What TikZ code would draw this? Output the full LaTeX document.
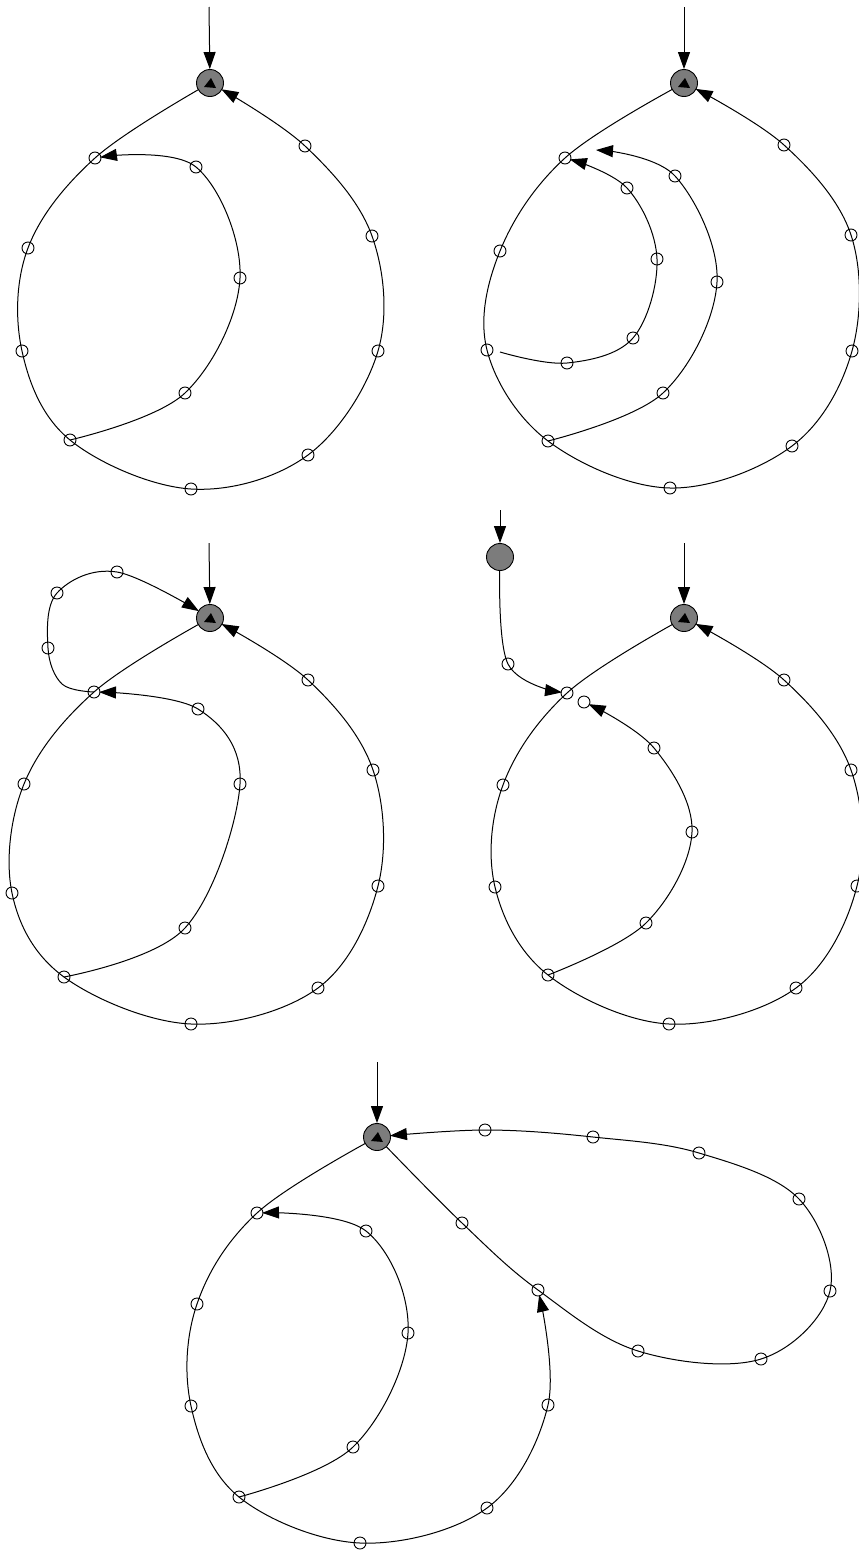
\documentclass[tikz,border=0pt]{standalone}
\usetikzlibrary{arrows.meta,backgrounds}
\definecolor{stategray}{RGB}{124,124,124}
\tikzset{
  dot/.style={circle,draw,line width=0.9pt,minimum size=12pt,inner sep=0pt},
  state/.style={circle,draw,line width=0.9pt,fill=stategray,minimum size=27pt,inner sep=0pt},
  conn/.style={line width=1pt},
  tip/.style={-{Triangle[length=17pt,width=12pt]}},
  sm/.style={smooth,tension=0.6}
}
\begin{document}
\begin{tikzpicture}[x=1pt,y=-1pt]
\useasboundingbox (0,0) rectangle (859,1553);
% ================= Panel 1 =================
\node[state] (g1) at (210,83) {};
\coordinate (in1) at (209,7);
\foreach \n/\p in {a1/{(95,158)},a2/{(28,248)},a3/{(22,351)},a4/{(70,440)},a5/{(191,489)},a6/{(308,455)},a7/{(378,351)},a8/{(372,236)},a9/{(305,146)},b1/{(185,393)},b2/{(240,278)},b3/{(196,167)}}
  \node[dot] (\n) at \p {};
% ================= Panel 2 =================
\node[state] (g2) at (684,83) {};
\coordinate (in2) at (684,7);
\foreach \n/\p in {c1/{(565,158)},c2/{(500,251)},c3/{(487,350)},c4/{(548,441)},c5/{(670,488)},c6/{(792,446)},c7/{(852,351)},c8/{(851,235)},c9/{(784,145)},d1/{(663,393)},d2/{(717,282)},d3/{(675,176)},e1/{(567,363)},e2/{(633,338)},e3/{(657,259)},e4/{(627,188)}}
  \node[dot] (\n) at \p {};
\coordinate (d4) at (596,150);
\coordinate (e0) at (500,352);
% ================= Panel 3 =================
\node[state] (g3) at (210,618) {};
\coordinate (in3) at (209,543);
\foreach \n/\p in {h1/{(94,692)},h2/{(48,648)},h3/{(57,593)},h4/{(117,572)},f2/{(24,784)},f3/{(12,893)},f4/{(64,977)},f5/{(191,1024)},f6/{(318,988)},f7/{(378,886)},f8/{(373,770)},f9/{(308,680)},j1/{(185,928)},j2/{(240,784)},j3/{(198,709)}}
  \node[dot] (\n) at \p {};
\coordinate (hk) at (62,684);
% ================= Panel 4 =================
\node[state] (gA) at (500,557) {};
\coordinate (inA) at (500,510);
\node[state] (gB) at (684,618) {};
\coordinate (inB) at (684,543);
\foreach \n/\p in {k1/{(508,664)},m1/{(567,693)},m2/{(503,785)},m3/{(495,887)},m4/{(548,975)},m5/{(669,1024)},m6/{(796,988)},m7/{(857,886)},m8/{(851,770)},m9/{(784,680)},n1/{(646,923)},n2/{(692,832)},n3/{(654,748)},n4/{(584,702)}}
  \node[dot] (\n) at \p {};
% ================= Panel 5 =================
\node[state] (g5) at (377,1137) {};
\coordinate (in5) at (377,1062);
\foreach \n/\p in {r1/{(462,1223)},r2/{(538,1290)},r3/{(638,1351)},r4/{(761,1359)},r5/{(830,1291)},r6/{(799,1199)},r7/{(699,1153)},r8/{(593,1137)},r9/{(485,1130)},s1/{(257,1213)},s2/{(197,1304)},s3/{(191,1406)},s4/{(239,1497)},s5/{(360,1543)},s6/{(487,1508)},s7/{(548,1405)},t1/{(353,1447)},t2/{(408,1333)},t3/{(366,1231)}}
  \node[dot] (\n) at \p {};
% triangles inside the grey states
\foreach \g in {g1,g2,g3,gB,g5}
  \fill[shift={(\g.center)}] (-6,4) -- (1,-5) -- (6,5) -- cycle;
% ================= Connectors =================
\begin{scope}[on background layer]
\fill[white] (0,0) rectangle (859,1553);
% panel 1
\draw[conn,tip] (in1) -- (g1);
\draw[conn,tip,shorten >=13pt] plot[sm] coordinates {(g1.center) (a1.center) (a2.center) (a3.center) (a4.center) (a5.center) (a6.center) (a7.center) (a8.center) (a9.center) (g1.center)};
\draw[conn,tip,shorten >=5pt] plot[sm] coordinates {(a4.center) (b1.center) (b2.center) (b3.center) (a1.center)};
% panel 2
\draw[conn,tip] (in2) -- (g2);
\draw[conn,tip,shorten >=13pt] plot[sm] coordinates {(g2.center) (c1.center) (c2.center) (c3.center) (c4.center) (c5.center) (c6.center) (c7.center) (c8.center) (c9.center) (g2.center)};
\draw[conn,tip] plot[sm] coordinates {(c4.center) (d1.center) (d2.center) (d3.center) (d4)};
\draw[conn,tip,shorten >=5pt] plot[sm] coordinates {(e0) (e1.center) (e2.center) (e3.center) (e4.center) (c1.center)};
% panel 3
\draw[conn,tip] (in3) -- (g3);
\draw[conn,tip,shorten >=13pt] plot[sm] coordinates {(g3.center) (h1.center) (f2.center) (f3.center) (f4.center) (f5.center) (f6.center) (f7.center) (f8.center) (f9.center) (g3.center)};
\draw[conn,tip,shorten >=5pt] plot[sm] coordinates {(f4.center) (j1.center) (j2.center) (j3.center) (h1.center)};
\draw[conn,tip,shorten >=13pt] plot[sm] coordinates {(h1.center) (hk) (h2.center) (h3.center) (h4.center) (g3.center)};
% panel 4
\draw[conn,tip] (inA) -- (gA);
\draw[conn,tip,shorten >=5pt] plot[sm] coordinates {(gA.center) (k1.center) (m1.center)};
\draw[conn,tip] (inB) -- (gB);
\draw[conn,tip,shorten >=13pt] plot[sm] coordinates {(gB.center) (m1.center) (m2.center) (m3.center) (m4.center) (m5.center) (m6.center) (m7.center) (m8.center) (m9.center) (gB.center)};
\draw[conn,tip,shorten >=5pt] plot[sm] coordinates {(m4.center) (n1.center) (n2.center) (n3.center) (n4.center)};
% panel 5
\draw[conn,tip] (in5) -- (g5);
\draw[conn,tip,shorten >=13pt] plot[sm] coordinates {(g5.center) (r1.center) (r2.center) (r3.center) (r4.center) (r5.center) (r6.center) (r7.center) (r8.center) (r9.center) (g5.center)};
\draw[conn,tip,shorten >=5pt] plot[sm] coordinates {(g5.center) (s1.center) (s2.center) (s3.center) (s4.center) (s5.center) (s6.center) (s7.center) (r2.center)};
\draw[conn,tip,shorten >=5pt] plot[sm] coordinates {(s4.center) (t1.center) (t2.center) (t3.center) (s1.center)};
\end{scope}
\end{tikzpicture}
\end{document}
